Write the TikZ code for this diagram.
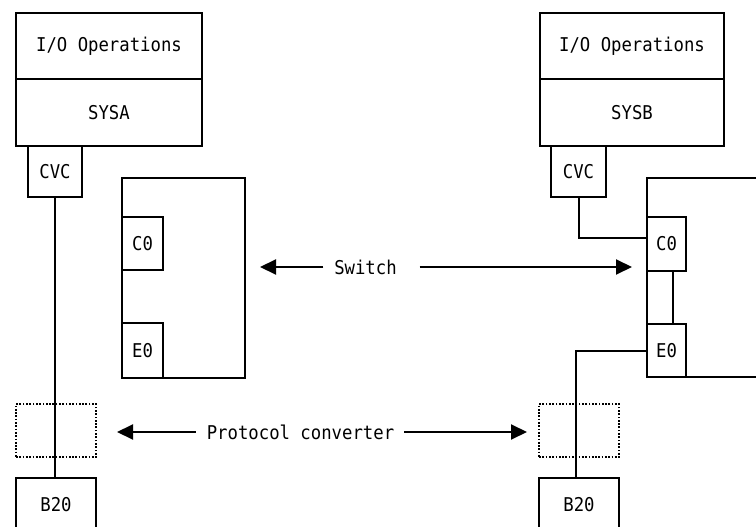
\documentclass[tikz,border=0pt]{standalone}
\usepackage{fontspec}
\newfontfamily\monofont[FakeStretch=0.91]{DejaVu Sans Mono}
\usetikzlibrary{arrows.meta, positioning, calc}

\begin{document}
\begin{tikzpicture}[x=1pt, y=-1pt, box/.style={draw, line width=2pt, anchor=north west, inner sep=0pt, outer sep=0pt, align=center, font=\monofont\fontsize{19}{22}\selectfont}, conv/.style={draw, line width=1.7pt, dash pattern=on 1.7pt off 1.6pt, anchor=north west, inner sep=0pt, outer sep=0pt, minimum width=80pt, minimum height=53pt}, tag/.style={inner sep=0pt, outer sep=0pt, font=\monofont\fontsize{19}{22}\selectfont}, link/.style={line width=2pt}, arrow/.style={-{Triangle[length=16pt, width=15pt]}, line width=2pt}]
\useasboundingbox (0,0) rectangle (756,527);
\node[box, minimum width=186pt, minimum height=66pt] (ioa) at (16,13) {I/O Operations};
\node[box, minimum width=186pt, minimum height=67pt, below=0pt of ioa] (sysa) {SYSA};
\node[box, minimum width=54pt, minimum height=51pt] (cvca) at (28,146) {CVC};
\node[box, minimum width=123pt, minimum height=200pt] (swa) at (122,178) {};
\node[box, minimum width=41pt, minimum height=53pt] (c0a) at (122,217) {C0};
\node[box, minimum width=41pt, minimum height=55pt] (e0a) at (122,323) {E0};
\node[conv] (cva) at (16,404) {};
\node[box, minimum width=80pt, minimum height=54pt] (b20a) at (16,478) {B20};
\node[box, minimum width=184pt, minimum height=66pt] (iob) at (540,13) {I/O Operations};
\node[box, minimum width=184pt, minimum height=67pt, below=0pt of iob] (sysb) {SYSB};
\node[box, minimum width=55pt, minimum height=51pt] (cvcb) at (551,146) {CVC};
\node[box, minimum width=39pt, minimum height=54pt] (c0b) at (647,217) {C0};
\node[box, minimum width=39pt, minimum height=53pt] (e0b) at (647,324) {E0};
\node[conv] (cvb) at (539,404) {};
\node[box, minimum width=80pt, minimum height=54pt] (b20b) at (539,478) {B20};
\coordinate (swbtop) at (760,178);
\coordinate (swbbot) at (760,377);
\draw[line width=2pt] (swbtop) -- (swbtop -| c0b.west) -- (swbbot -| e0b.west) -- (swbbot);
\node[tag] (sw) at (365.5,267) {Switch};
\node[tag] (pc) at (300.5,432) {Protocol converter};
\draw[arrow, shorten <=11pt, shorten >=15pt] (sw.west) -- (sw.west -| swa.east);
\draw[arrow, shorten <=23pt, shorten >=15pt] (sw.east) -- (sw.east -| c0b.west);
\draw[arrow, shorten <=11pt, shorten >=21pt] (pc.west) -- (pc.west -| cva.east);
\draw[arrow, shorten <=10pt, shorten >=12pt] (pc.east) -- (pc.east -| cvb.west);
\draw[link] (cvca.south) -- (cvca.south |- b20a.north);
\draw[link] (cvcb.south) |- ([yshift=6pt]c0b.west);
\draw[link] ([xshift=6.5pt]c0b.south) -- ([xshift=6.5pt]e0b.north);
\draw[link] (e0b.west) -| ([xshift=-3pt]b20b.north);
\end{tikzpicture}
\end{document}
